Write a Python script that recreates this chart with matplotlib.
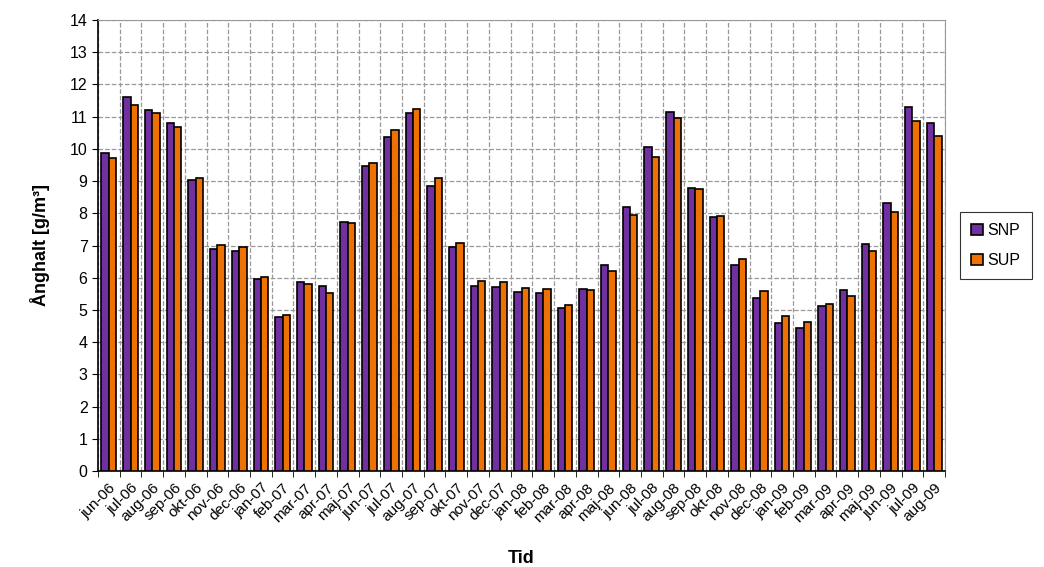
import numpy as np
import matplotlib.pyplot as plt

plt.rcParams['font.family'] = ['Liberation Sans', 'DejaVu Sans']

months = ['jun-06', 'jul-06', 'aug-06', 'sep-06', 'okt-06', 'nov-06', 'dec-06',
          'jan-07', 'feb-07', 'mar-07', 'apr-07', 'maj-07', 'jun-07', 'jul-07',
          'aug-07', 'sep-07', 'okt-07', 'nov-07', 'dec-07', 'jan-08', 'feb-08',
          'mar-08', 'apr-08', 'maj-08', 'jun-08', 'jul-08', 'aug-08', 'sep-08',
          'okt-08', 'nov-08', 'dec-08', 'jan-09', 'feb-09', 'mar-09', 'apr-09',
          'maj-09', 'jun-09', 'jul-09', 'aug-09']

snp = [9.86, 11.62, 11.22, 10.79, 9.04, 6.88, 6.83,
       5.95, 4.79, 5.86, 5.75, 7.74, 9.47, 10.38,
       11.11, 8.84, 6.95, 5.74, 5.70, 5.56, 5.53,
       5.07, 5.65, 6.41, 8.19, 10.07, 11.14, 8.77,
       7.87, 6.41, 5.38, 4.58, 4.44, 5.12, 5.61,
       7.04, 8.33, 11.31, 10.79]

sup = [9.71, 11.35, 11.10, 10.68, 9.10, 7.01, 6.95,
       6.03, 4.85, 5.80, 5.52, 7.71, 9.56, 10.60,
       11.25, 9.08, 7.07, 5.89, 5.86, 5.67, 5.64,
       5.15, 5.61, 6.22, 7.96, 9.74, 10.96, 8.75,
       7.91, 6.58, 5.59, 4.81, 4.63, 5.19, 5.43,
       6.82, 8.04, 10.86, 10.40]

fig = plt.figure(figsize=(10.44, 5.67), dpi=100)
ax = fig.add_axes([98 / 1044, 1 - 471 / 567, 847 / 1044, 451 / 567])

x = np.arange(len(months))
w = 0.34
ax.bar(x - w / 2, snp, w, color='#7030A0', edgecolor='black', linewidth=1.2, label='SNP', zorder=3)
ax.bar(x + w / 2, sup, w, color='#EE7203', edgecolor='black', linewidth=1.2, label='SUP', zorder=3)

ax.set_xlim(-0.5, len(months) - 0.5)
ax.set_ylim(0, 14)
ax.set_yticks(range(0, 15))
ax.set_xticks(x)
ax.set_xticklabels(months, rotation=45, ha='right', rotation_mode='anchor', fontsize=11)
ax.set_xticks(np.arange(-0.5, len(months), 1), minor=True)
ax.tick_params(axis='x', which='major', length=0, pad=7)
ax.tick_params(axis='x', which='minor', length=4, direction='out')
ax.tick_params(axis='y', labelsize=11.5, length=4)

ax.grid(True, axis='y', which='major', linestyle='--', color='#999999', linewidth=0.9, zorder=0)
ax.grid(True, axis='x', which='minor', linestyle='--', color='#999999', linewidth=0.9, zorder=0)

for s in ['top', 'right']:
    ax.spines[s].set_color('#999999')
ax.spines['left'].set_linewidth(1.2)
ax.spines['bottom'].set_linewidth(1.2)

ax.set_ylabel('Ånghalt [g/m³]', fontsize=13, fontweight='bold', labelpad=14)
ax.set_xlabel('Tid', fontsize=13, fontweight='bold', labelpad=18)

leg = ax.legend(loc='center left', bbox_to_anchor=(1.018, 0.5), fontsize=11.5,
                frameon=True, fancybox=False, edgecolor='black',
                handlelength=0.7, handleheight=0.7, handletextpad=0.3,
                labelspacing=0.9, borderpad=0.7, borderaxespad=0)
leg.get_frame().set_linewidth(0.8)

plt.savefig('out.png', dpi=100)
plt.close()
